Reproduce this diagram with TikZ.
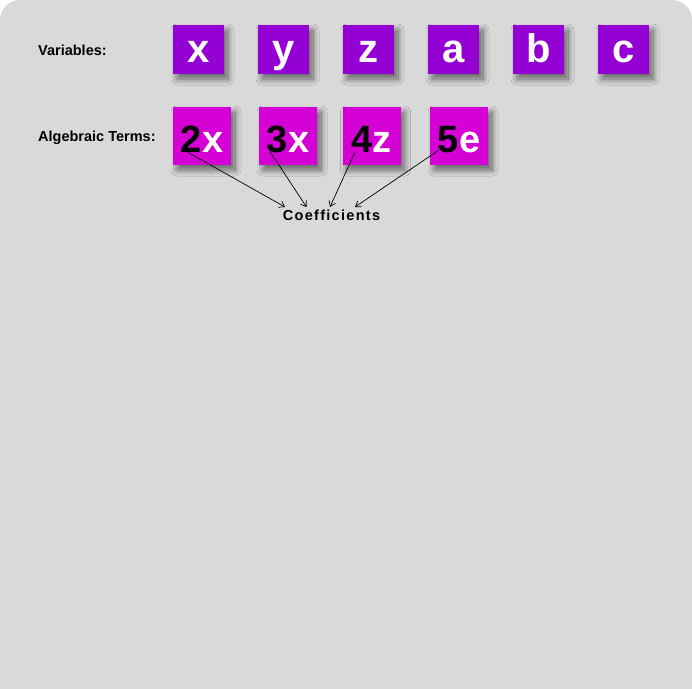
\documentclass[tikz,border=0pt]{standalone}
\usepackage{fontspec}
\setmainfont{Liberation Sans}
\usetikzlibrary{arrows.meta,positioning,calc,shadows.blur}

\definecolor{panelgray}{HTML}{D9D9D9}
\definecolor{varviolet}{HTML}{9400D3}
\definecolor{termmagenta}{HTML}{D400D4}

\begin{document}
\begin{tikzpicture}[x=1pt,y=-1pt,
  boxshadow/.style={blur shadow={shadow xshift=4pt, shadow yshift=-5pt,
      shadow blur radius=6pt, shadow blur steps=16, shadow opacity=55}},
  varbox/.style={boxshadow, fill=varviolet, text=white, inner sep=0pt,
      minimum width=51pt, minimum height=49pt, text height=25pt, text depth=0pt,
      font=\bfseries\fontsize{40}{40}\selectfont},
  termbox/.style={boxshadow, fill=termmagenta, text=white, inner sep=0pt,
      minimum width=58pt, minimum height=58pt, text height=32pt, text depth=0pt,
      font=\bfseries\fontsize{38}{38}\selectfont},
  rowlabel/.style={anchor=base west, inner sep=0pt,
      font=\bfseries\fontsize{14.5}{16}\selectfont},
  pointer/.style={-{Straight Barb[length=5pt,width=7pt]}, line width=0.7pt}]

  % page and panel
  \useasboundingbox (0,0) rectangle (692,688);
  \fill[white] (0,0) rectangle (692,688);
  \clip (0,0) rectangle (692,688);
  \fill[panelgray, rounded corners=20pt] (0,0) rectangle (692,740);

  % row labels
  \node[rowlabel] (varlabel) at (38,55) {Variables:};
  \node[rowlabel] (termlabel) at (38,141) {Algebraic Terms:};

  % variables
  \foreach \v [count=\i from 0] in {x,y,z,a,b,c}
    \node[varbox] (var\v) at (198.5+85*\i,49.5) {\v};

  % algebraic terms
  \node[termbox] (term2x) at (202,136) {{\color{black}2}x};
  \node[termbox] (term3x) at (288,136) {{\color{black}3}x};
  \node[termbox] (term4z) at (371.5,136) {{\color{black}4}z};
  \node[termbox] (term5e) at (459,136) {{\color{black}5}e};

  % coefficients label
  \node[anchor=base, inner sep=0pt,
    font=\bfseries\fontsize{14.5}{16}\selectfont\addfontfeatures{LetterSpace=9}]
    (coef) at (331.5,220.7) {Coefficients};

  % arrow ends
  \coordinate (from2) at (186.5,151.5);
  \coordinate (from3) at (270,151.5);
  \coordinate (from4) at (355,152);
  \coordinate (from5) at (439,150);
  \coordinate (to2) at ($(coef.north)+(-46.5,-3)$);
  \coordinate (to3) at ($(coef.north)+(-25,-3)$);
  \coordinate (to4) at ($(coef.north)+(-1.5,-3)$);
  \coordinate (to5) at ($(coef.north)+(23.5,-3)$);

  \draw[pointer] (from2) -- (to2);
  \draw[pointer] (from3) -- (to3);
  \draw[pointer] (from4) -- (to4);
  \draw[pointer] (from5) -- (to5);
\end{tikzpicture}
\end{document}
